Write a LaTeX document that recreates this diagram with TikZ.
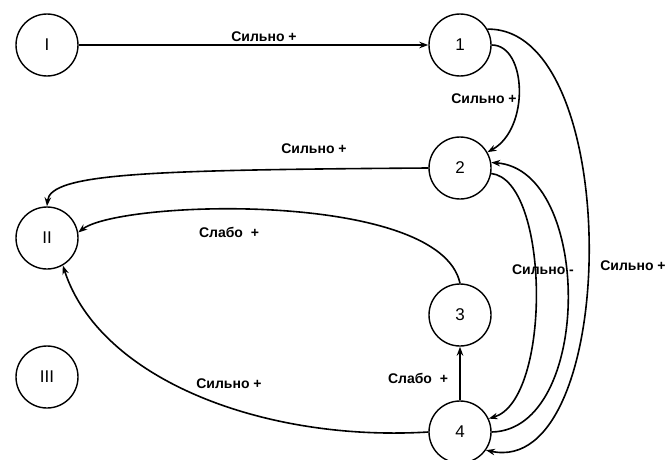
\documentclass[tikz,border=0pt]{standalone}
\usepackage{fontspec}
\setmainfont{Liberation Sans}
\usetikzlibrary{arrows.meta}
\begin{document}
\begin{tikzpicture}[x=1pt,y=1pt,
  state/.style={circle,draw,line width=1.4pt,minimum size=62pt,inner sep=0pt,font=\fontsize{17}{17}\selectfont},
  edge/.style={line width=1.6pt,-{Stealth[length=9pt,width=6.5pt]}},
  lbl/.style={font=\bfseries\fontsize{14}{14}\selectfont,inner sep=1pt}]
\useasboundingbox (0,0) rectangle (669,459);
\node[state] (I) at (47,414) {I};
\node[state] (n1) at (460,414) {1};
\node[state] (n2) at (460,291) {2};
\node[state] (II) at (47,221) {II};
\node[state] (n3) at (460,144) {3};
\node[state] (III) at (47,82) {III};
\node[state] (n4) at (460,27) {4};
% I -> 1
\draw[edge] (I) -- (n1);
\node[lbl] (l1) at (264,422) {Сильно +};
% 1 -> 2
\draw[edge] (n1.east) .. controls (527,414) and (530,330) .. (n2.30);
\node[lbl] (l2) at (484,360) {Сильно +};
% 1 -> 4
\draw[edge] (n1.30) .. controls (625,432) and (620,-20) .. (n4.-35);
\node[lbl] (l3) at (633,193) {Сильно +};
% 2 -> II
\draw[edge] (n2.west) .. controls (150,289) and (50,286) .. (II.north);
\node[lbl] (l4) at (314,310) {Сильно +};
% 3 -> II
\draw[edge] (n3.north) .. controls (440,269) and (120,259) .. (II.10);
\node[lbl] (l5) at (229,227) {Слабо~ +};
% 4 -> II
\draw[edge] (n4.west) .. controls (265,17) and (100,79) .. (II.-60);
\node[lbl] (l6) at (229,75) {Сильно +};
% 4 -> 3
\draw[edge] (n4.north) -- (n3.south);
\node[lbl] (l7) at (418,81) {Слабо~ +};
% 2 -> 4
\draw[edge] (n2.-10) .. controls (550,279) and (552,59) .. (n4.25);
% 4 -> 2
\draw[edge] (n4.east) .. controls (593,29) and (593,289) .. (n2.10);
\node[lbl] (l8) at (543,189) {Сильно -};
\end{tikzpicture}
\end{document}
